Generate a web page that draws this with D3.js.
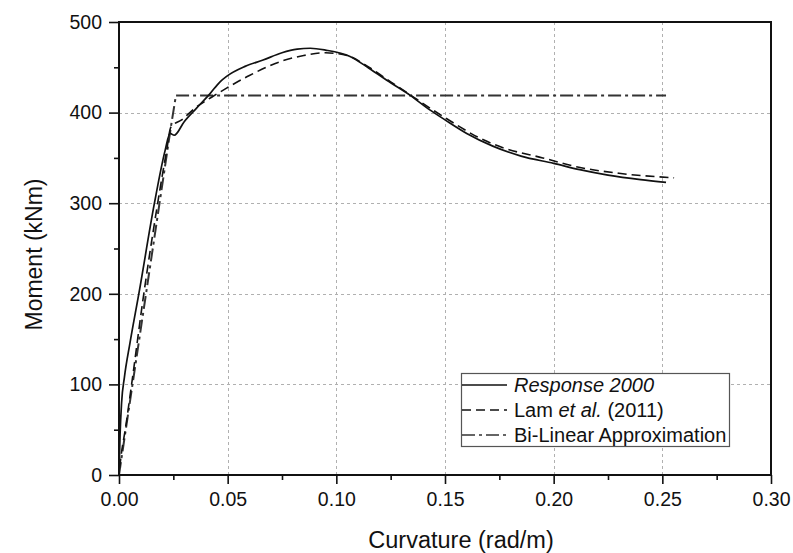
<!DOCTYPE html>
<html>
<head>
<meta charset="utf-8">
<script src="https://cdn.jsdelivr.net/npm/d3@7"></script>
<style>
  html, body { margin: 0; padding: 0; background: #fff; }
  svg { display: block; font-family: "Liberation Sans", Arial, sans-serif; }
</style>
</head>
<body>
<svg id="chart" width="793" height="553"></svg>
<script>
// ---- data (curvature rad/m, moment kNm) ----
const response2000 = [
  [0, 0], [0.0005, 45], [0.0012, 80], [0.0025, 108], [0.005, 145], [0.0092, 201],
  [0.0163, 300], [0.0212, 358], [0.0235, 377], [0.0254, 375], [0.030, 390],
  [0.0357, 405], [0.0419, 421], [0.0465, 434], [0.0495, 440], [0.058, 451],
  [0.0663, 458], [0.075, 466], [0.082, 470], [0.088, 471], [0.095, 469],
  [0.1063, 462], [0.115, 449], [0.125, 433], [0.134, 419], [0.143, 403],
  [0.150, 392], [0.160, 377], [0.172, 363], [0.185, 352], [0.200, 344],
  [0.212, 337], [0.225, 331], [0.240, 326], [0.2517, 323]
];
const lam2011 = [
  [0.0003, 8], [0.001, 22], [0.003, 52], [0.0058, 100], [0.011, 193], [0.0178, 300],
  [0.0219, 358], [0.0239, 384], [0.0288, 392], [0.035, 405], [0.0426, 417],
  [0.0495, 427], [0.060, 441], [0.0764, 458], [0.085, 463], [0.095, 466],
  [0.105, 463], [0.115, 450], [0.125, 434], [0.135, 418], [0.145, 402],
  [0.155, 387], [0.165, 373], [0.177, 361], [0.195, 350], [0.211, 340],
  [0.230, 333], [0.2554, 328]
];
const bilinear = [[0, 0], [0.0238, 383], [0.0262, 419], [0.2517, 419]];

const xTicks = [0, 0.05, 0.10, 0.15, 0.20, 0.25, 0.30];
const xMinorTicks = [0.025, 0.075, 0.125, 0.175, 0.225, 0.275];
const yTicks = [0, 100, 200, 300, 400, 500];
const yMinorTicks = [50, 150, 250, 350, 450];
const legendLabels = ["Response 2000", "Lam et al. (2011)", "Bi-Linear Approximation"];

// ---- layout ----
const L = 119, R = 771, T = 22, B = 475;
const svg = d3.select("#chart");
const x = d3.scaleLinear().domain([0, 0.30]).range([L, R]);
const y = d3.scaleLinear().domain([0, 500]).range([B, T]);

// grid
const grid = svg.append("g").attr("stroke", "#b0b0b0").attr("stroke-width", 1)
  .attr("stroke-dasharray", "3,3");
grid.selectAll("line.vx").data(xTicks.filter(d => d > 0 && d < 0.30)).join("line")
  .attr("x1", d => Math.round(x(d)) + 0.5).attr("x2", d => Math.round(x(d)) + 0.5)
  .attr("y1", T).attr("y2", B);
grid.selectAll("line.hy").data(yTicks.filter(d => d > 0 && d < 500)).join("line")
  .attr("y1", d => Math.round(y(d)) + 0.5).attr("y2", d => Math.round(y(d)) + 0.5)
  .attr("x1", L).attr("x2", R);

// lines
const line = d3.line().x(d => x(d[0])).y(d => y(d[1])).curve(d3.curveMonotoneX);
const lineLin = d3.line().x(d => x(d[0])).y(d => y(d[1]));
svg.append("path").datum(bilinear).attr("d", lineLin).attr("fill", "none")
  .attr("stroke", "#333").attr("stroke-width", 2).attr("stroke-dasharray", "13,4,3,4");
svg.append("path").datum(lam2011).attr("d", line).attr("fill", "none")
  .attr("stroke", "#111").attr("stroke-width", 1.6).attr("stroke-dasharray", "9,5");
svg.append("path").datum(response2000).attr("d", line).attr("fill", "none")
  .attr("stroke", "#111").attr("stroke-width", 1.7);

// axes
const xAxis = svg.append("g").attr("transform", `translate(0,${B})`)
  .call(d3.axisBottom(x).tickValues(xTicks).tickFormat(d3.format(".2f")).tickSize(9).tickPadding(8));
const xMinor = svg.append("g").attr("transform", `translate(0,${B})`)
  .call(d3.axisBottom(x).tickValues(xMinorTicks).tickFormat("").tickSize(5));
const yAxis = svg.append("g").attr("transform", `translate(${L},0)`)
  .call(d3.axisLeft(y).tickValues(yTicks).tickFormat(d3.format("d")).tickSize(10).tickPadding(7));
const yMinor = svg.append("g").attr("transform", `translate(${L},0)`)
  .call(d3.axisLeft(y).tickValues(yMinorTicks).tickFormat("").tickSize(5));
[xAxis, xMinor, yAxis, yMinor].forEach(g => {
  g.select(".domain").remove();
  g.selectAll(".tick line").attr("stroke", "#111").attr("stroke-width", 1.6);
  g.selectAll(".tick text").attr("font-size", 19.5).attr("fill", "#111")
    .attr("font-family", "Liberation Sans, Arial, sans-serif");
});

// frame
svg.append("rect").attr("x", L).attr("y", T).attr("width", R - L).attr("height", B - T)
  .attr("fill", "none").attr("stroke", "#111").attr("stroke-width", 2);

// axis titles
svg.append("text").attr("x", 461).attr("y", 548).attr("text-anchor", "middle")
  .attr("font-size", 23.5).attr("fill", "#111").text("Curvature (rad/m)");
svg.append("text").attr("transform", `translate(42,${(T + B) / 2 + 6}) rotate(-90)`)
  .attr("text-anchor", "middle").attr("font-size", 23).attr("fill", "#111").text("Moment (kNm)");

// legend
const lg = svg.append("g");
lg.append("rect").attr("x", 461.5).attr("y", 373.5).attr("width", 268).attr("height", 73)
  .attr("fill", "#fff").attr("stroke", "#555").attr("stroke-width", 1.2);
const styles = [
  { dash: null, w: 1.7, c: "#111" },
  { dash: "9,5", w: 1.6, c: "#111" },
  { dash: "13,4,3,4", w: 1.6, c: "#333" }
];
legendLabels.forEach((lab, i) => {
  const cy = 385 + i * 25;
  lg.append("line").attr("x1", 462).attr("x2", 507).attr("y1", cy).attr("y2", cy)
    .attr("stroke", styles[i].c).attr("stroke-width", styles[i].w)
    .attr("stroke-dasharray", styles[i].dash);
  const t = lg.append("text").attr("x", 514).attr("y", cy + 7).attr("font-size", 20).attr("fill", "#111");
  if (i === 0) {
    t.attr("font-style", "italic").text(lab);
  } else if (i === 1) {
    t.append("tspan").text("Lam ");
    t.append("tspan").attr("font-style", "italic").text("et al.");
    t.append("tspan").text(" (2011)");
  } else {
    t.text(lab);
  }
});
</script>
</body>
</html>
